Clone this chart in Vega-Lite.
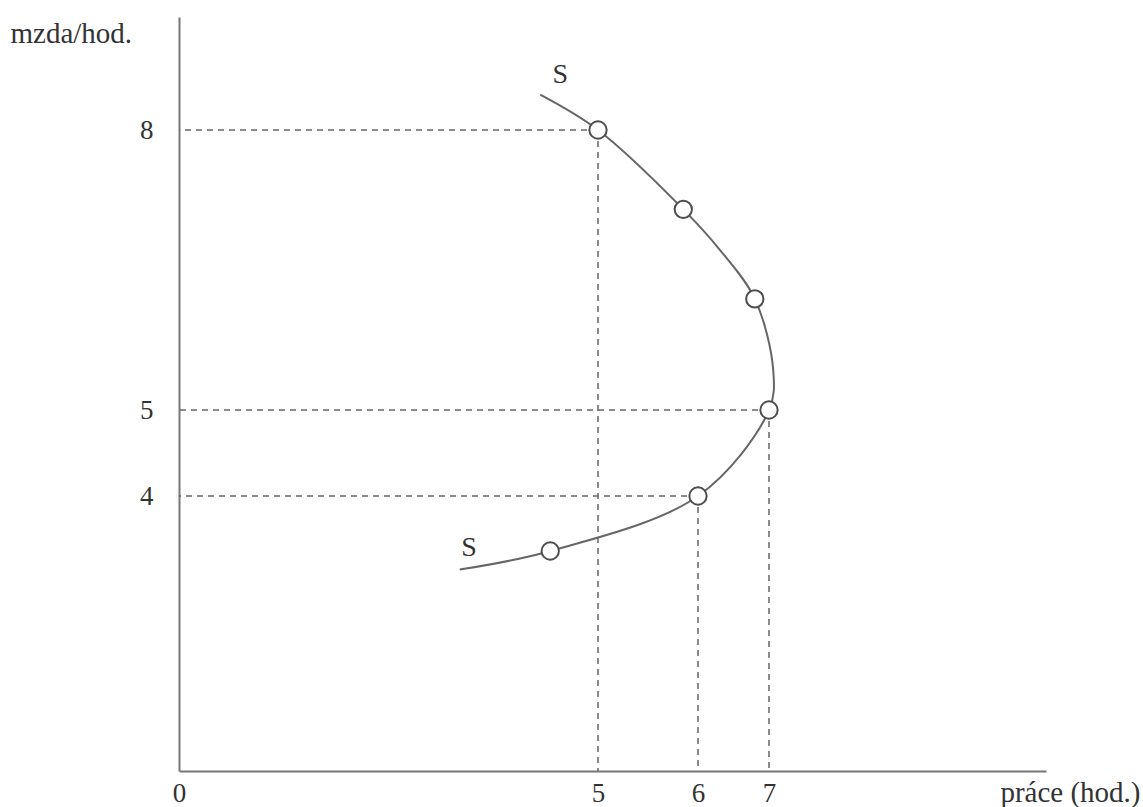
{
  "$schema": "https://vega.github.io/schema/vega-lite/v6.json",
  "width": 867,
  "height": 754,
  "autosize": {"type": "none"},
  "padding": {"left": 179, "top": 17, "right": 97, "bottom": 36},
  "background": "white",
  "config": {
    "view": {"stroke": null},
    "axis": {
      "domainColor": "#777777",
      "domainWidth": 2,
      "ticks": false,
      "grid": false,
      "labelFlush": false,
      "labelFont": "Liberation Serif",
      "labelFontSize": 27,
      "labelColor": "#333333",
      "titleFont": "Liberation Serif",
      "titleFontSize": 29,
      "titleFontWeight": "normal",
      "titleColor": "#333333"
    }
  },
  "datasets": {
    "curve": [
      {"i": 1, "prace": 4.31, "mzda": 8.375},
      {"i": 2, "prace": 5.0, "mzda": 8.0},
      {"i": 3, "prace": 5.853, "mzda": 7.15},
      {"i": 4, "prace": 6.31, "mzda": 6.714},
      {"i": 5, "prace": 6.8, "mzda": 6.19},
      {"i": 6, "prace": 7.05, "mzda": 5.43},
      {"i": 7, "prace": 7.0, "mzda": 5.0},
      {"i": 8, "prace": 6.0, "mzda": 4.0},
      {"i": 9, "prace": 4.43, "mzda": 3.2},
      {"i": 10, "prace": 3.35, "mzda": 2.93}
    ],
    "points": [
      {"prace": 5.0, "mzda": 8.0},
      {"prace": 5.853, "mzda": 7.15},
      {"prace": 6.8, "mzda": 6.19},
      {"prace": 7.0, "mzda": 5.0},
      {"prace": 6.0, "mzda": 4.0},
      {"prace": 4.43, "mzda": 3.2}
    ],
    "guides": [
      {"prace": 5, "mzda": 8},
      {"prace": 7, "mzda": 5},
      {"prace": 6, "mzda": 4}
    ],
    "labels": [
      {"prace": 4.55, "mzda": 8.58, "text": "S"},
      {"prace": 3.46, "mzda": 3.24, "text": "S"}
    ]
  },
  "layer": [
    {
      "data": {"name": "curve"},
      "mark": {"type": "line", "color": "#666666", "strokeWidth": 2, "interpolate": "catmull-rom"},
      "encoding": {
        "x": {
          "field": "prace",
          "type": "quantitative",
          "scale": {"domain": [0, 5, 6, 7, 10.3], "range": [0, 419, 519, 590, 867], "nice": false, "zero": false},
          "axis": {
            "values": [0, 5, 6, 7],
            "format": "d",
            "labelPadding": 30,
            "labelBaseline": "alphabetic",
            "title": "práce (hod.)",
            "titleX": 961,
            "titleY": 30,
            "titleAlign": "right",
            "titleBaseline": "alphabetic"
          }
        },
        "y": {
          "field": "mzda",
          "type": "quantitative",
          "scale": {"domain": [0, 4, 5, 8, 9.2], "range": [754, 479, 393, 113, 0], "nice": false, "zero": false},
          "axis": {
            "values": [4, 5, 8],
            "format": "d",
            "labelPadding": 26,
            "title": "mzda/hod.",
            "titleAngle": 0,
            "titleX": -169,
            "titleY": 25,
            "titleAlign": "left",
            "titleBaseline": "alphabetic"
          }
        },
        "order": {"field": "i", "type": "quantitative"}
      }
    },
    {
      "data": {"name": "guides"},
      "mark": {"type": "rule", "color": "#666666", "strokeWidth": 1.5, "strokeDash": [6, 5]},
      "encoding": {
        "x": {"field": "prace", "type": "quantitative"},
        "x2": {"datum": 0},
        "y": {"field": "mzda", "type": "quantitative"}
      }
    },
    {
      "data": {"name": "guides"},
      "mark": {"type": "rule", "color": "#666666", "strokeWidth": 1.5, "strokeDash": [6, 5]},
      "encoding": {
        "x": {"field": "prace", "type": "quantitative"},
        "y": {"field": "mzda", "type": "quantitative"},
        "y2": {"datum": 0}
      }
    },
    {
      "data": {"name": "points"},
      "mark": {"type": "point", "shape": "circle", "filled": false, "fill": "white", "fillOpacity": 1, "stroke": "#4d4d4d", "strokeWidth": 2, "size": 300, "opacity": 1},
      "encoding": {
        "x": {"field": "prace", "type": "quantitative"},
        "y": {"field": "mzda", "type": "quantitative"}
      }
    },
    {
      "data": {"name": "labels"},
      "mark": {"type": "text", "font": "Liberation Serif", "fontSize": 28, "color": "#333333", "align": "center", "baseline": "middle"},
      "encoding": {
        "x": {"field": "prace", "type": "quantitative"},
        "y": {"field": "mzda", "type": "quantitative"},
        "text": {"field": "text"}
      }
    }
  ]
}
